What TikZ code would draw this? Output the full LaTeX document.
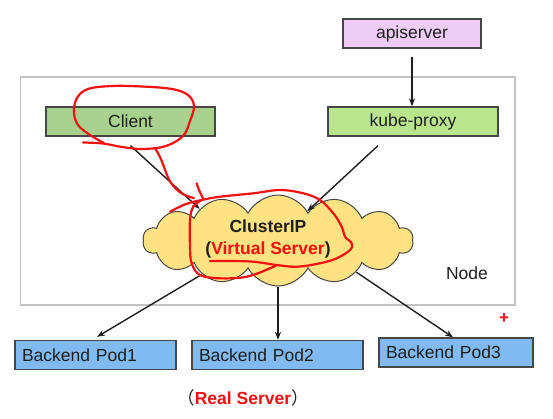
\documentclass[tikz,border=0pt]{standalone}
\usepackage{fontspec}
\setmainfont{Liberation Sans}
\newfontfamily\cjk{Noto Sans CJK SC}
\usepackage{tikz}
\usetikzlibrary{shapes.symbols}
\usetikzlibrary{arrows.meta}
\usepackage{color}
\definecolor{violetapi}{RGB}{238,204,246}
\definecolor{vertclient}{RGB}{169,209,142}
\definecolor{vertproxy}{RGB}{185,230,140}
\definecolor{bleupod}{RGB}{128,186,240}
\definecolor{jaune}{RGB}{255,227,130}
\definecolor{grisbord}{RGB}{70,70,70}
\definecolor{griscadre}{RGB}{195,195,195}
\definecolor{texte}{RGB}{30,30,30}
\definecolor{rouge}{RGB}{245,15,15}

\begin{document}
\begin{tikzpicture}[x=1pt,y=-1pt,
	boite/.style={draw=grisbord,line width=1.3pt,minimum height=29pt,inner sep=0pt,text=texte,font=\fontsize{17.5}{20}\selectfont},
	pod/.style={boite,fill=bleupod,align=left,inner xsep=7pt},
	nuage/.style={cloud,cloud puffs=14,cloud puff arc=125,cloud ignores aspect,minimum width=270pt,minimum height=91pt,draw=grisbord,line width=1pt,fill=jaune},
	fleche/.style={-{Stealth[length=8pt,width=6pt]},line width=1.4pt,texte},
	trait/.style={rouge,line width=2.2pt,line cap=round,line join=round}]
%					Cadre de l'image :
					\useasboundingbox (0,0) rectangle (553,418);
%					Cadre du noeud :
					\draw[griscadre,line width=1.8pt] (20.5,77) rectangle (515,305);
					\node[text=texte,font=\fontsize{17.5}{20}\selectfont] (noeud) at (467,273) {Node};
%					Les boites :
					\node[boite,fill=violetapi,minimum width=138pt] (api) at (412,33.5) {apiserver};
					\node[boite,fill=vertclient,minimum width=169pt] (client) at (130.5,121.5) {Client};
					\node[boite,fill=vertproxy,minimum width=170pt] (proxy) at (413,121.5) {kube-proxy};
					\node[pod,text width=147pt] (pod1) at (95.5,355) {Backend Pod1};
					\node[pod,text width=157pt] (pod2) at (277.5,355) {Backend Pod2};
					\node[pod,text width=140pt] (pod3) at (456,352.5) {Backend Pod3};
%					Le nuage :
					\node[nuage] (nuage) at (278,240.5) {};
					\node[font=\bfseries\fontsize{17.5}{22}\selectfont,align=center,text=texte] (vs) at (268,239) {ClusterIP\\(\textcolor{rouge}{Virtual Server})};
%					Les fleches :
					\draw[fleche,shorten <=8pt] (api.south) -- (api.south |- proxy.north);
					\draw[fleche] ([yshift=-9pt]client.south) -- (nuage.158);
					\draw[fleche] ([xshift=-35pt,yshift=-9pt]proxy.south) -- (nuage.45);
					\draw[fleche] (nuage.204) -- ([xshift=1.5pt,yshift=3pt]pod1.north);
					\draw[fleche] (nuage.south) -- (nuage.south |- pod2.north);
					\draw[fleche] (nuage.-22) -- ([xshift=-3pt]pod3.north);
%					Textes du bas :
					\node[text=rouge,font=\bfseries\fontsize{17}{17}\selectfont] (plus) at (504,319) {+};
					\node[font=\fontsize{17.5}{20}\selectfont,text=texte] (reel) at (243,398) {{\cjk （}\textcolor{rouge}{\bfseries Real Server}{\cjk ）}};
%					Traits rouges a main levee :
					\draw[trait] plot[smooth,tension=0.6] coordinates {(83,142.5) (103,143.5) (122,147) (143,149) (166,146) (183,136) (190,121) (194,106) (188,95) (172,89) (142,86.5) (112,86) (88,89) (77,98) (74,112) (78,125) (90,135) (104,143)};
					\draw[trait] plot[smooth,tension=0.6] coordinates {(155,148.3) (159,155) (163.3,165) (167,175) (171,183) (179,191.5) (187,196) (194,198)};
					\draw[trait] plot[smooth,tension=0.6] coordinates {(196.7,183.3) (199,190) (203,198.3)};
					\draw[trait] plot[smooth,tension=0.6] coordinates {(170,211.7) (186,204) (201.7,200) (220,196.7) (253.3,193.3) (280,190) (303.3,193.3) (320,200) (333.3,213.3) (341.7,226.7) (345,236.7) (351.7,243.3) (350,250) (336.7,258.3) (320,263.3) (296.7,266.7) (276.7,265) (253.3,261.7) (230,261) (210,261)};
					\draw[trait] plot[smooth,tension=0.6] coordinates {(201.7,200) (193.3,206.7) (190,220) (190,246.7) (191.7,263.3) (200,275) (220,278.3) (246.7,276.7) (270,268.3) (276.7,265)};
				\end{tikzpicture}
\end{document}
